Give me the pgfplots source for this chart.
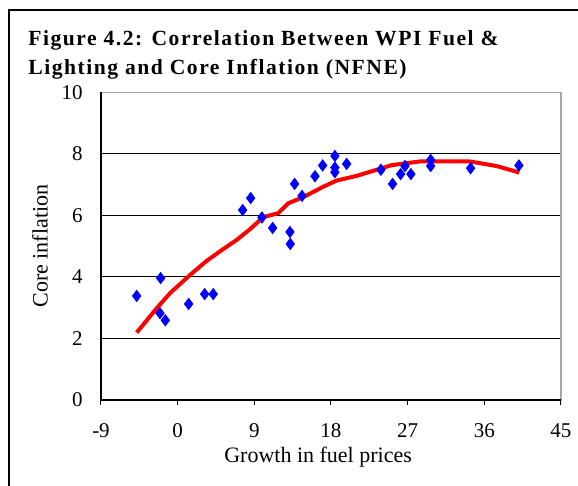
\documentclass[border=0pt]{standalone}
\usepackage{pgfplots}
\pgfplotsset{compat=1.18}
\usepackage{fontspec}
\setmainfont{Liberation Serif}
\newfontfamily\titlefont[LetterSpace=7]{Liberation Serif}

\begin{document}
\begin{tikzpicture}
% picture frame: 1px of the reference = 0.5pt
\useasboundingbox (-50.5pt,-43pt) rectangle (238.5pt,200pt);
\draw[line width=1.3pt] (-46pt,-43pt) -- (-46pt,195pt) -- (238.5pt,195pt);

\node[anchor=base west, align=left, inner sep=0pt,
      font=\titlefont\fontsize{10.8}{14.6}\selectfont\bfseries]
  at (-36.5pt,162.8pt) {Figure 4.2: Correlation Between WPI Fuel \&\\Lighting and Core Inflation (NFNE)};

\begin{axis}[
    at={(0,0)}, anchor=south west,
    scale only axis,
    width=230pt, height=153.9pt,
    xmin=-9, xmax=45,
    ymin=0, ymax=10,
    xtick={-9,0,...,45},
    ytick={0,2,...,10},
    axis line style={draw=gray!70, line width=0.6pt},
    ymajorgrids,
    grid style={black, line width=0.5pt},
    xtick style={black, line width=0.5pt},
    major tick length=2.5pt,
    xtick pos=bottom, xtick align=outside,
    ytick style={draw=none},
    tick label style={font=\fontsize{10.5}{12}\selectfont},
    /pgf/number format/assume math mode=true,
    yticklabel style={anchor=east, inner sep=0pt, xshift=-9pt},
    xticklabel style={anchor=base, inner sep=0pt, yshift=-16.5pt},
    xlabel={Growth in fuel prices},
    ylabel={Core inflation},
    label style={font=\fontsize{11}{13}\selectfont},
    xlabel style={at={(axis description cs:0.472,0)}, anchor=base, inner sep=0pt, yshift=-31.5pt},
    ylabel style={at={(axis description cs:0,0.5)}, anchor=center, inner sep=0pt, yshift=30.5pt},
    clip=false,
]
% black left and bottom axis lines
\draw[black, line width=0.6pt] (rel axis cs:0,1) -- (rel axis cs:0,0) -- (rel axis cs:1,0);

% observations
\addplot[only marks, mark=diamond*, mark size=2.8pt, color=blue, fill=blue] coordinates {
    (-4.81,3.38) (-2.0,3.96) (-2.08,2.82) (-1.45,2.59) (1.29,3.12)
    (3.17,3.44) (4.18,3.44) (7.63,6.17) (8.57,6.56) (9.9,5.93)
    (11.15,5.59) (13.18,5.46) (13.22,5.07) (13.73,7.02) (14.6,6.63)
    (16.12,7.27) (17.02,7.62) (18.46,7.93) (18.46,7.55) (18.46,7.40)
    (19.84,7.67) (23.86,7.48) (25.23,7.02) (26.17,7.34) (26.68,7.60)
    (27.38,7.34) (29.7,7.80) (29.7,7.60) (34.39,7.53) (40.06,7.62)
};

% fitted line
\addplot[red, line width=2pt, line join=round] coordinates {
    (-4.81,2.19) (-2.46,2.98) (-0.9,3.47) (1.45,4.06) (3.4,4.52)
    (5.17,4.87) (6.93,5.2) (8.5,5.55) (10.05,5.94) (11.8,6.07) (12.98,6.39)
    (14.74,6.59) (17.1,6.93) (18.66,7.13) (21.0,7.28) (23.36,7.48)
    (25.12,7.63) (28.44,7.75) (34.3,7.75) (37.45,7.6) (40.1,7.39)
};
\end{axis}
\end{tikzpicture}
\end{document}
